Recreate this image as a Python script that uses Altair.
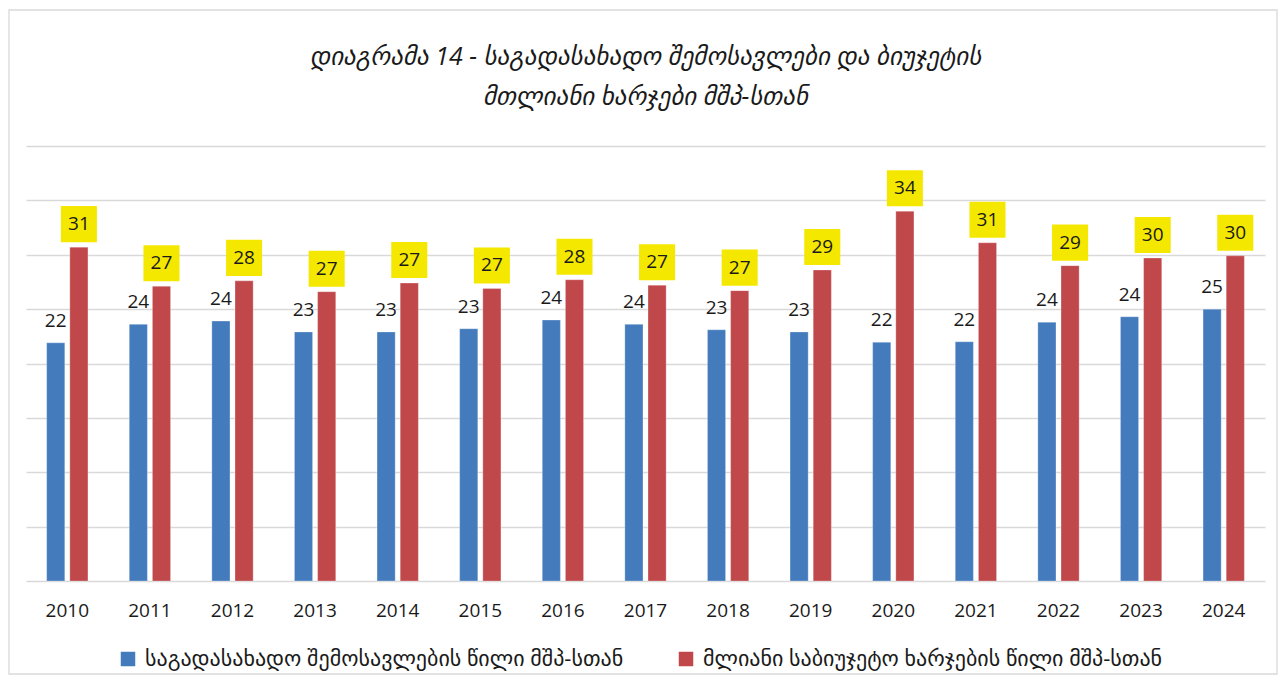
import altair as alt
import pandas as pd

years = [str(y) for y in range(2010, 2025)]
tax_revenue = [21.9, 23.6, 23.9, 22.9, 22.9, 23.2, 24.0, 23.6, 23.1, 22.9, 21.95, 22.0, 23.8, 24.3, 25.0]
total_spending = [30.7, 27.1, 27.6, 26.6, 27.4, 26.9, 27.7, 27.2, 26.7, 28.6, 34.0, 31.1, 29.0, 29.7, 29.9]

s1 = "საგადასახადო  შემოსავლების წილი მშპ-სთან"
s2 = "მლიანი საბიუჯეტო ხარჯების წილი მშპ-სთან"
title_lines = ["დიაგრამა 14  - საგადასახადო შემოსავლები და ბიუჯეტის",
               "მთლიანი ხარჯები მშპ-სთან"]

rows = []
for i, y in enumerate(years):
    rows.append({"year": y, "series": s1, "value": tax_revenue[i]})
    rows.append({"year": y, "series": s2, "value": total_spending[i]})
df = pd.DataFrame(rows)

FONT = "Open Sans, DejaVu Sans"
W, H = 1239, 435

base = alt.Chart(df).encode(
    x=alt.X("year:N", sort=years,
            scale=alt.Scale(paddingInner=0.5, paddingOuter=0.25),
            axis=alt.Axis(title=None, labelAngle=0, labelFontSize=19, labelFont=FONT,
                          labelColor="#1a1a1a", labelPadding=20, ticks=False, domain=False)),
    xOffset=alt.XOffset("series:N", sort=[s1, s2],
                        scale=alt.Scale(domain=[s1, s2], paddingInner=0.217, paddingOuter=0)),
    y=alt.Y("value:Q", scale=alt.Scale(domain=[0, 40], nice=False),
            axis=alt.Axis(title=None, labels=False, ticks=False, domain=False,
                          values=[0, 5, 10, 15, 20, 25, 30, 35, 40],
                          gridColor="#d9d9d9", gridWidth=1.3)),
)

bars = base.mark_bar(stroke="white", strokeOpacity=0.35, strokeWidth=0.8).encode(
    color=alt.Color("series:N", sort=[s1, s2],
                    scale=alt.Scale(domain=[s1, s2], range=["#447bbd", "#c0474a"]),
                    legend=alt.Legend(title=None, orient="none", legendX=91, legendY=502,
                                      direction="horizontal", symbolType="square",
                                      symbolSize=210, symbolStrokeWidth=0,
                                      labelFontSize=22, labelFont=FONT, labelColor="#1a1a1a",
                                      labelLimit=900, columnPadding=46, symbolOffset=0,
                                      labelOffset=6))
)

blue_text = base.transform_filter(alt.datum.series == s1).mark_text(
    baseline="middle", dy=-22, fontSize=19, font=FONT, color="#1a1a1a"
).encode(text=alt.Text("value:Q", format=".0f"))

red_box = base.transform_filter(alt.datum.series == s2).mark_square(
    size=1300, yOffset=-23, color="#f5e800", opacity=1, filled=True
)

red_text = base.transform_filter(alt.datum.series == s2).mark_text(
    baseline="middle", dy=-23, fontSize=19, font=FONT, color="#1a1a1a"
).encode(text=alt.Text("value:Q", format=".0f"))

one = pd.DataFrame({"k": [0]})
title1 = alt.Chart(one).mark_text(
    text=title_lines[0], fontSize=25, fontStyle="italic", font=FONT, color="#1a1a1a",
    align="center", baseline="middle"
).encode(x=alt.value(W / 2), y=alt.value(-89))
title2 = alt.Chart(one).mark_text(
    text=title_lines[1], fontSize=25, fontStyle="italic", font=FONT, color="#1a1a1a",
    align="center", baseline="middle"
).encode(x=alt.value(W / 2), y=alt.value(-49))

border = alt.Chart(one).mark_rect(
    fill=None, stroke="#d9d9d9", strokeWidth=1.3
).encode(x=alt.value(-17), x2=alt.value(W + 12), y=alt.value(-136), y2=alt.value(H + 93))

chart = alt.layer(bars, blue_text, red_box, red_text, title1, title2, border).properties(
    width=W, height=H,
    autosize=alt.AutoSizeParams(type="none"),
    padding={"left": 18, "top": 138, "right": 14, "bottom": 95},
).configure_view(stroke=None).configure_axis(gridColor="#d9d9d9")

chart.save("out.html", embed_options={"renderer": "svg", "actions": False})
